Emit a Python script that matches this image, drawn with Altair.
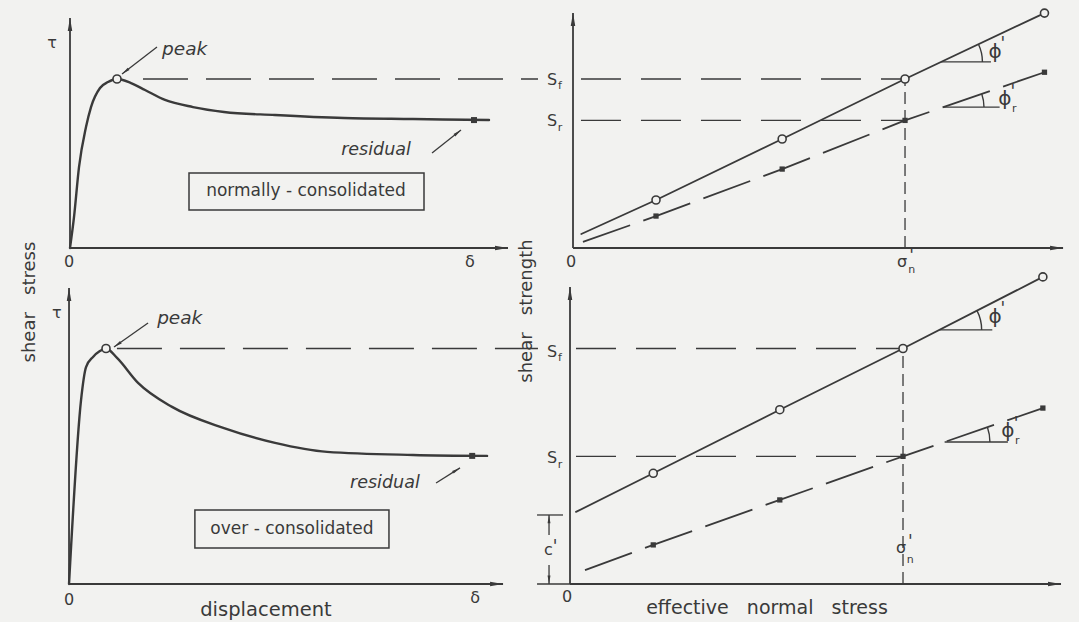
import math
import altair as alt
import pandas as pd

INK = "#3a3a3a"
BG = "#f2f2f0"
FONT = "DejaVu Sans"
ARROW = "M0,0L0.35,2L-0.35,2Z"
NB = "\u00a0"

# ---------------- values ----------------
# left panels: shear stress (tau) against displacement (delta), arbitrary units
nc_disp = [0, 0.1, 0.225, 0.4, 0.525, 0.75, 0.95, 1.175, 1.525, 1.875, 2.375,
           3.075, 3.85, 5.125, 6.85, 8.575, 10.475]
nc_tau = [0, 18.3, 47.9, 71.6, 83.4, 94.7, 98.2, 100, 97.6, 93.5, 87.6,
          83.4, 80.5, 78.7, 76.9, 76.3, 75.7]
oc_disp = [0, 0.296, 0.419, 0.591, 0.76, 0.911, 1.182, 1.7, 2.537, 3.818,
           5.074, 6.355, 8.473, 10.296]
oc_tau = [0, 78.1, 92.1, 96.4, 98.9, 100, 96.0, 85.4, 75.2, 66.2,
          59.9, 56.1, 54.8, 54.4]
nc_peak = [1.175, 100]
nc_residual = [10.1, 75.7]
oc_peak = [0.911, 100]
oc_residual = [9.93, 54.4]
delta_mark = 10

# right panels: strength envelopes against effective normal stress
test_sigma = [50, 126, 200, 284]
nc_peak_strength = [28.4, 64.5, 100, 139]
nc_res_strength = [18.9, 46.7, 75.5, 104]
oc_peak_strength = [47, 74, 100, 130.4]
oc_res_strength = [16.6, 35.7, 54.2, 74.7]
env_start_sigma = {"nc_peak": 5, "nc_res": 6, "oc_peak": 3.6, "oc_res": 9}
env_start_tau = {"nc_peak": 8.3, "nc_res": 3.6, "oc_peak": 30.6, "oc_res": 5.9}
sigma_n = 200
c_prime = 29.3


class Panel:
    def __init__(s, xd, yd, w, h):
        s.xd, s.yd, s.w, s.h = xd, yd, w, h
        s.kx = w / (xd[1] - xd[0])
        s.ky = h / (yd[1] - yd[0])
        s.layers = []

    def X(s, f="x"):
        return alt.X(f"{f}:Q", scale=alt.Scale(domain=s.xd, nice=False, zero=False), axis=None)

    def Y(s, f="y"):
        return alt.Y(f"{f}:Q", scale=alt.Scale(domain=s.yd, nice=False, zero=False), axis=None)

    def line(s, xs, ys, width=2.2, dash=None, interp="linear"):
        df = pd.DataFrame({"x": xs, "y": ys, "o": list(range(len(xs)))})
        kw = dict(color=INK, strokeWidth=width, interpolate=interp,
                  strokeCap="round", strokeJoin="round")
        if dash:
            kw["strokeDash"] = dash
            kw["strokeCap"] = "butt"
        s.layers.append(alt.Chart(df).mark_line(**kw).encode(x=s.X(), y=s.Y(), order="o:Q"))

    def segs(s, rows, width=1.6, dash=None):
        df = pd.DataFrame(rows, columns=["x", "y", "x2", "y2"])
        kw = dict(color=INK, strokeWidth=width)
        if dash:
            kw["strokeDash"] = dash
        s.layers.append(alt.Chart(df).mark_rule(**kw).encode(
            x=s.X(), y=s.Y(), x2=alt.X2("x2"), y2=alt.Y2("y2")))

    def heads(s, rows, size=169):
        recs = []
        for tx, ty, fx, fy in rows:
            dxp = (tx - fx) * s.kx
            dyp = -(ty - fy) * s.ky
            ang = math.degrees(math.atan2(dxp, -dyp)) % 360
            recs.append({"x": tx, "y": ty, "a": ang})
        df = pd.DataFrame(recs)
        s.layers.append(alt.Chart(df).mark_point(
            shape=ARROW, filled=True, fill=INK, strokeWidth=0, size=size, opacity=1
        ).encode(x=s.X(), y=s.Y(), angle=alt.Angle("a:Q", scale=None)))

    def text(s, rows, size=17, italic=False, angle=0, align="center", baseline="middle"):
        df = pd.DataFrame(rows, columns=["x", "y", "t"])
        kw = dict(font=FONT, fontSize=size, color=INK, align=align, baseline=baseline)
        if italic:
            kw["fontStyle"] = "italic"
        if angle:
            kw["angle"] = angle
        s.layers.append(alt.Chart(df).mark_text(**kw).encode(x=s.X(), y=s.Y(), text="t:N"))

    def box(s, x, y, x2, y2):
        df = pd.DataFrame({"x": [x], "y": [y], "x2": [x2], "y2": [y2]})
        s.layers.append(alt.Chart(df).mark_rect(
            fillOpacity=0, stroke=INK, strokeWidth=1.5
        ).encode(x=s.X(), y=s.Y(), x2=alt.X2("x2"), y2=alt.Y2("y2")))

    def circles(s, xs, ys, size=64):
        df = pd.DataFrame({"x": xs, "y": ys})
        s.layers.append(alt.Chart(df).mark_point(
            shape="circle", filled=True, fill=BG, stroke=INK, strokeWidth=1.6,
            size=size, opacity=1).encode(x=s.X(), y=s.Y()))

    def squares(s, xs, ys, size=30):
        df = pd.DataFrame({"x": xs, "y": ys})
        s.layers.append(alt.Chart(df).mark_square(size=size, color=INK, opacity=1)
                        .encode(x=s.X(), y=s.Y()))

    def angle_mark(s, xs, ys, level, length, r):
        # horizontal reference line + arc between it and the envelope
        slope = (ys[3] - ys[2]) / (xs[3] - xs[2])
        vx = xs[2] + (level - ys[2]) / slope
        s.segs([(vx, level, vx + length, level)], width=1.3)
        ang = math.atan(slope * s.ky / s.kx)
        df = pd.DataFrame({"x": [vx], "y": [level]})
        s.layers.append(alt.Chart(df).mark_arc(
            color=INK, theta=math.pi / 2 - ang, theta2=math.pi / 2,
            radius=r, radius2=r - 1.4).encode(x=s.X(), y=s.Y()))

    def chart(s):
        return alt.layer(*s.layers).properties(width=s.w, height=s.h)


# ---------------- top-left: normally consolidated ----------------
TL = Panel([-1.75, 11.75], [-13.02, 146.75], 540, 270)
TL.segs([(0, 0, 0, 136.1), (0, 0, 10.95, 0)], width=1.8)
TL.heads([(0, 136.1, 0, 100), (10.95, 0, 5, 0)])
TL.segs([(1.825, nc_peak[1], 11.7, nc_peak[1])], width=1.5, dash=[45, 18])
TL.line(nc_disp, nc_tau, width=2.4, interp="monotone")
TL.circles([nc_peak[0]], [nc_peak[1]])
TL.squares([nc_residual[0]], [nc_residual[1]], size=36)
TL.segs([(2.175, 118.9, 1.3, 103.0), (9.05, 56.2, 9.775, 69.8)], width=1.3)
TL.heads([(1.3, 103.0, 2.175, 118.9), (9.775, 69.8, 9.05, 56.2)], size=70)
TL.text([(2.3, 117.8, "peak")], size=18.5, italic=True, align="left")
TL.text([(7.65, 58, "residual")], size=17.5, italic=True)
TL.box(2.975, 44.4, 8.85, 22.5)
TL.text([(5.9, 33.7, "normally - consolidated")], size=17)
TL.text([(-0.45, 121.3, "τ"), (-0.025, -8.3, "0"), (delta_mark, -8.3, "δ")], size=16)
TL.text([(-1.0, -32, "shear" + NB * 3 + "stress"),
         (11.43, -37.3, "shear" + NB * 3 + "strength")], size=18, angle=270)

# ---------------- top-right: envelopes, normally consolidated ----------------
TR = Panel([-19.88, 304.8], [-13.02, 146.75], 539, 270)
TR.segs([(0, 0, 0, 139), (0, 0, 295.2, 0)], width=1.8)
TR.heads([(0, 139, 0, 100), (295.2, 0, 200, 0)])
TR.segs([(4.8, nc_peak_strength[2], sigma_n, nc_peak_strength[2]),
         (4.8, nc_res_strength[2], sigma_n, nc_res_strength[2])], width=1.4, dash=[40, 20])
TR.segs([(sigma_n, 0, sigma_n, nc_peak_strength[2])], width=1.3, dash=[12, 6])
TR.line([env_start_sigma["nc_peak"]] + test_sigma, [env_start_tau["nc_peak"]] + nc_peak_strength, width=1.8)
TR.line([env_start_sigma["nc_res"]] + test_sigma, [env_start_tau["nc_res"]] + nc_res_strength,
        width=1.8, dash=[50, 14])
TR.circles(test_sigma, nc_peak_strength)
TR.squares(test_sigma, nc_res_strength, size=28)
TR.angle_mark(test_sigma, nc_peak_strength, 110.1, 30, 42)
TR.angle_mark(test_sigma, nc_res_strength, 83.4, 33.7, 41)
TR.text([(-12.65, 99.4, "S"), (-12.65, 75.1, "S"), (-1.2, -8.3, "0"),
         (198.2, -8.3, "σ")], size=16)
TR.text([(254.2, 116, "ϕ"), (260.2, 88.2, "ϕ")], size=20)
TR.text([(-7.8, 95.9, "f"), (-7.8, 71, "r"), (204, -13.0, "n"), (265.8, 82.2, "r")], size=11)
TR.text([(204, -4.8, "'"), (259, 120.7, "'"), (265, 92.3, "'")], size=17)

# ---------------- bottom-left: over-consolidated ----------------
BL = Panel([-1.70, 11.60], [-16.14, 133.33], 540, 352)
BL.segs([(0, 0, 0, 125.7), (0, 0, 10.69, 0)], width=1.8)
BL.heads([(0, 125.7, 0, 100), (10.69, 0, 5, 0)])
BL.segs([(1.18, oc_peak[1], 11.55, oc_peak[1])], width=1.5, dash=[45, 18])
BL.line(oc_disp, oc_tau, width=2.4, interp="monotone")
BL.circles([oc_peak[0]], [oc_peak[1]])
BL.squares([oc_residual[0]], [oc_residual[1]], size=36)
BL.segs([(1.946, 110.8, 1.108, 100.6), (9.04, 42.9, 9.63, 49.3)], width=1.3)
BL.heads([(1.108, 100.6, 1.946, 110.8), (9.63, 49.3, 9.04, 42.9)], size=70)
BL.text([(2.17, 112.95, "peak")], size=18.5, italic=True, align="left")
BL.text([(7.78, 42.9, "residual")], size=17.5, italic=True)
BL.box(3.1, 31.4, 7.88, 15.3)
BL.text([(5.49, 23.4, "over - consolidated")], size=17)
BL.text([(-0.3, 115.1, "τ"), (0, -6.8, "0"), (delta_mark, -6.0, "δ")], size=16)
BL.text([(4.85, -11.0, "displacement")], size=19.5)

# ---------------- bottom-right: envelopes, over-consolidated ----------------
BR = Panel([-18.02, 305.7], [-16.14, 133.33], 539, 352)
BR.segs([(0, 0, 0, 126.1), (0, 0, 294.9, 0)], width=1.8)
BR.heads([(0, 126.1, 0, 100), (294.9, 0, 200, 0)])
BR.segs([(-19.8, c_prime, -4.2, c_prime), (-19.8, 0, 0, 0)], width=1.3)
BR.segs([(-12.6, 20.8, -12.6, c_prime), (-12.6, 8.1, -12.6, 0)], width=1.3)
BR.heads([(-12.6, c_prime, -12.6, 20), (-12.6, 0, -12.6, 8)], size=70)
BR.segs([(3.6, oc_peak_strength[2], sigma_n, oc_peak_strength[2]),
         (3.6, oc_res_strength[2], sigma_n, oc_res_strength[2])], width=1.4, dash=[40, 20])
BR.segs([(sigma_n, 0, sigma_n, oc_peak_strength[2])], width=1.3, dash=[12, 6])
BR.line([env_start_sigma["oc_peak"]] + test_sigma, [env_start_tau["oc_peak"]] + oc_peak_strength, width=1.8)
BR.line([env_start_sigma["oc_res"]] + test_sigma, [env_start_tau["oc_res"]] + oc_res_strength,
        width=1.8, dash=[50, 14])
BR.circles(test_sigma, oc_peak_strength)
BR.squares(test_sigma, oc_res_strength, size=28)
BR.angle_mark(test_sigma, oc_peak_strength, 107.9, 31.8, 43)
BR.angle_mark(test_sigma, oc_res_strength, 60.3, 38, 46)
BR.text([(-10.8, 98.5, "S"), (-10.8, 53.5, "S"), (-1.8, -5.5, "0"), (-13, 14.4, "c"),
         (198.8, 15.3, "σ")], size=16)
BR.text([(255.3, 113.4, "ϕ"), (263, 65, "ϕ")], size=20)
BR.text([(-6, 96, "f"), (-6, 50.5, "r"), (204.4, 10.2, "n"), (268.6, 60.6, "r")], size=11)
BR.text([(-9, 15.7, "'"), (204.4, 18.0, "'"), (260, 116.8, "'"), (267.9, 67.9, "'")], size=17)
BR.text([(118.3, -10.2, "effective" + NB * 3 + "normal" + NB * 3 + "stress")], size=19)

chart = (
    alt.concat(TL.chart(), TR.chart(), BL.chart(), BR.chart(),
               columns=2, spacing=0, bounds="flush")
    .properties(padding=0, background=BG)
    .configure_view(strokeWidth=0)
)
chart.save("out.html", embed_options={"renderer": "svg", "actions": False})
